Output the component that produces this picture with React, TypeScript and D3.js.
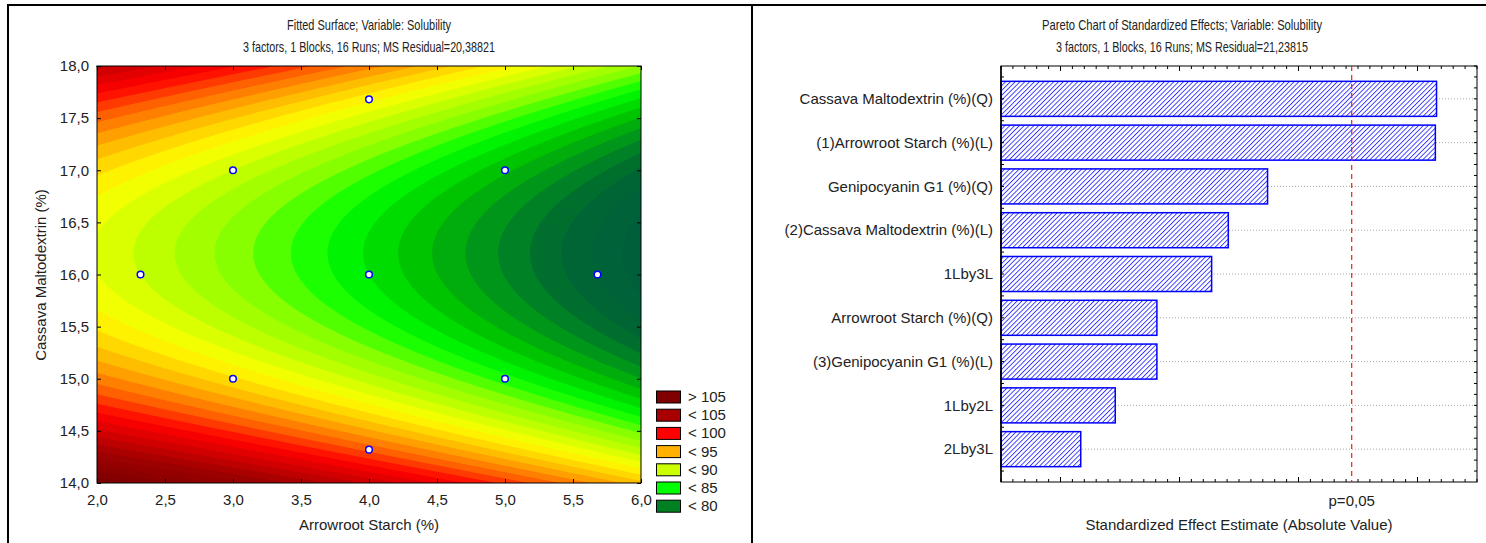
import React, { useEffect, useRef } from 'react';
import * as d3 from 'd3';

// ---------- left panel: fitted surface ----------
const starchTicks = [2, 2.5, 3, 3.5, 4, 4.5, 5, 5.5, 6];
const maltoTicks = [14, 14.5, 15, 15.5, 16, 16.5, 17, 17.5, 18];
const designStarch = [2.32, 3, 3, 4, 4, 4, 5, 5, 5.68];
const designMalto = [16, 17, 15, 17.68, 16, 14.32, 17, 15, 16];
// quadratic model read off the contour bands, coded units (starch-4, malto-16)
// b0, bS, bM, bSS, bMM, bSM
const surfaceCoef = [84, -3.87, -1.6, -0.18, 3.9, 0];
const levelStops = [74, 78, 80, 82.5, 85, 87.5, 90, 92, 95, 97.5, 100, 102.5, 105, 110];
const levelColors = ['#005a40', '#006633', '#008a20', '#00c400', '#00ff00', '#88ff00', '#ccff00',
  '#ffff00', '#ffb000', '#ff6000', '#ff0000', '#d00000', '#a00000', '#780000'];
const legendLabels = ['> 105', '< 105', '< 100', '< 95', '< 90', '< 85', '< 80'];
const legendColors = ['#800000', '#a80000', '#ff0000', '#ffb000', '#ccff00', '#00ff00', '#008022'];

// ---------- right panel: pareto chart ----------
const effectNames = [
  'Cassava Maltodextrin (%)(Q)',
  '(1)Arrowroot Starch (%)(L)',
  'Genipocyanin G1 (%)(Q)',
  '(2)Cassava Maltodextrin (%)(L)',
  '1Lby3L',
  'Arrowroot Starch (%)(Q)',
  '(3)Genipocyanin G1 (%)(L)',
  '1Lby2L',
  '2Lby3L',
];
const effectValues = [3.16, 3.15, 1.74, 1.41, 1.27, 0.81, 0.81, 0.46, 0.17];
const pCritical = 2.447;

const FONT = '"Liberation Sans", Arial, sans-serif';
const fmt = (d: number) => d3.format('.1f')(d).replace('.', ',');

export default function App() {
  const svgRef = useRef<SVGSVGElement>(null);

  useEffect(() => {
    const svg = d3.select(svgRef.current);
    svg.selectAll('*').remove();
    svg.attr('font-family', FONT).attr('font-size', 15).attr('fill', '#222');

    // condensed two-line chart titles
    const title = (g: any, cx: number, lines: string[], widths: number[]) => {
      lines.forEach((t, i) => {
        g.append('text').attr('x', cx).attr('y', 29.5 + i * 22).attr('text-anchor', 'middle')
          .attr('font-size', 15).attr('textLength', widths[i]).attr('lengthAdjust', 'spacingAndGlyphs')
          .text(t);
      });
    };

    // panel frames
    svg.append('line').attr('x1', 8).attr('x2', 1486).attr('y1', 5).attr('y2', 5)
      .attr('stroke', '#000').attr('stroke-width', 2);
    [8, 752].forEach(px => {
      svg.append('line').attr('x1', px).attr('x2', px).attr('y1', 4).attr('y2', 543)
        .attr('stroke', '#000').attr('stroke-width', 2);
    });

    // ================= fitted surface =================
    const x = d3.scaleLinear().domain([2, 6]).range([97, 641]);
    const y = d3.scaleLinear().domain([14, 18]).range([483, 66]);
    const color = d3.scaleLinear<string>().domain(levelStops).range(levelColors).clamp(true);

    const surf = (s: number, m: number) => {
      const [b0, bS, bM, bSS, bMM, bSM] = surfaceCoef;
      const u = s - 4, v = m - 16;
      return b0 + bS * u + bM * v + bSS * u * u + bMM * v * v + bSM * u * v;
    };

    const gw = 544, gh = 417;
    const values = new Array(gw * gh);
    for (let j = 0; j < gh; j++) {
      for (let i = 0; i < gw; i++) {
        values[j * gw + i] = surf(x.invert(97 + i + 0.5), y.invert(66 + j + 0.5));
      }
    }
    const bands = d3.contours().size([gw, gh]).thresholds(d3.range(60, 121, 1))(values);

    const left = svg.append('g');
    left.append('g').attr('transform', 'translate(97,66)')
      .selectAll('path').data(bands).join('path')
      .attr('d', d3.geoPath())
      .attr('fill', d => color(d.value + 0.5));

    // axes
    const styleAxis = (sel: any) => {
      sel.select('.domain').remove();
      sel.attr('font-family', FONT).attr('font-size', 15);
      sel.selectAll('line').attr('stroke', '#000');
      sel.selectAll('text').attr('fill', '#222');
    };
    left.append('g').attr('transform', 'translate(0,483)')
      .call(d3.axisBottom(x).tickValues(starchTicks).tickSize(-4).tickPadding(11).tickFormat(fmt as any))
      .call(styleAxis);
    left.append('g').attr('transform', 'translate(97,0)')
      .call(d3.axisLeft(y).tickValues(maltoTicks).tickSize(-4).tickPadding(8).tickFormat(fmt as any))
      .call(styleAxis);
    left.append('g').attr('transform', 'translate(0,66)')
      .call(d3.axisTop(x).tickValues(starchTicks).tickSize(-4).tickFormat(() => ''))
      .call(styleAxis);
    left.append('g').attr('transform', 'translate(641,0)')
      .call(d3.axisRight(y).tickValues(maltoTicks).tickSize(-4).tickFormat(() => ''))
      .call(styleAxis);
    left.append('rect').attr('x', 97).attr('y', 66).attr('width', 544).attr('height', 417)
      .attr('fill', 'none').attr('stroke', '#000');

    // design points
    left.selectAll('circle').data(designStarch).join('circle')
      .attr('cx', d => x(d))
      .attr('cy', (d, i) => y(designMalto[i]))
      .attr('r', 3.3)
      .attr('fill', '#fff').attr('stroke', '#0000ff').attr('stroke-width', 1.5);

    // titles
    title(left, 369, ['Fitted Surface; Variable: Solubility',
      '3 factors, 1 Blocks, 16 Runs; MS Residual=20,38821'], [164, 252]);
    left.append('text').attr('x', 369).attr('y', 530).attr('text-anchor', 'middle')
      .text('Arrowroot Starch (%)');
    left.append('text').attr('transform', 'translate(46,275) rotate(-90)').attr('text-anchor', 'middle')
      .text('Cassava Maltodextrin (%)');

    // legend
    const leg = left.append('g');
    legendLabels.forEach((lab, i) => {
      const ty = 391 + i * 18.2;
      leg.append('rect').attr('x', 656.5).attr('y', ty).attr('width', 24).attr('height', 12)
        .attr('fill', legendColors[i]).attr('stroke', '#000');
      leg.append('text').attr('x', 688).attr('y', ty + 11).text(lab);
    });

    // ================= pareto chart =================
    const xP = d3.scaleLinear().domain([-0.5, 3.5]).range([1001, 1477]);
    const yP = d3.scaleLinear().domain([0.25, 9.75]).range([66, 482]);
    const right = svg.append('g');

    const defs = svg.append('defs');
    const pat = defs.append('pattern').attr('id', 'hatch').attr('patternUnits', 'userSpaceOnUse')
      .attr('width', 3.4).attr('height', 3.4).attr('patternTransform', 'rotate(45)');
    pat.append('rect').attr('width', 3.4).attr('height', 3.4).attr('fill', '#fff');
    pat.append('line').attr('x1', 0).attr('x2', 0).attr('y1', 0).attr('y2', 3.4)
      .attr('stroke', '#3333ff').attr('stroke-width', 1.8);

    // grid
    right.selectAll('line.grid').data(effectValues).join('line').attr('class', 'grid')
      .attr('x1', 1001).attr('x2', 1477)
      .attr('y1', (d, i) => yP(i + 1)).attr('y2', (d, i) => yP(i + 1))
      .attr('stroke', '#aaa').attr('stroke-dasharray', '1,2');

    // bars
    right.selectAll('rect.bar').data(effectValues).join('rect').attr('class', 'bar')
      .attr('x', xP(-0.5))
      .attr('y', (d, i) => yP(i + 1 - 0.4))
      .attr('width', d => xP(d) - xP(-0.5))
      .attr('height', yP(1.4) - yP(0.6))
      .attr('fill', 'url(#hatch)').attr('stroke', '#0000ff').attr('stroke-width', 1.5);

    // tick marks
    const ticksH = (vals: number[], yy: number, dir: number, len: (v: number) => number) => {
      right.append('g').selectAll('line').data(vals).join('line')
        .attr('x1', d => xP(d)).attr('x2', d => xP(d))
        .attr('y1', yy).attr('y2', d => yy + dir * len(d))
        .attr('stroke', '#000');
    };
    const ticksV = (vals: number[], xx: number, dir: number) => {
      right.append('g').selectAll('line').data(vals).join('line')
        .attr('y1', d => yP(d)).attr('y2', d => yP(d))
        .attr('x1', xx).attr('x2', xx + dir * 3)
        .attr('stroke', '#000');
    };
    const xTicks = d3.range(-5, 36).map(k => k / 10);
    const tickLen = (v: number) => (Math.abs(v - Math.round(v)) < 1e-6 ? 5 : 3);
    ticksH(xTicks, 66, 1, tickLen);
    ticksH(xTicks, 482, -1, tickLen);
    ticksV(d3.range(1, 20).map(k => k / 2), 1001, 1);
    ticksV(d3.range(1, 39).map(k => k / 4), 1477, -1);

    right.append('rect').attr('x', 1001).attr('y', 66).attr('width', 476).attr('height', 416)
      .attr('fill', 'none').attr('stroke', '#000');
    right.append('line').attr('x1', 1001).attr('x2', 1001).attr('y1', 66).attr('y2', 482)
      .attr('stroke', '#000').attr('stroke-width', 1.5);

    // critical t value
    right.append('line').attr('x1', xP(pCritical)).attr('x2', xP(pCritical))
      .attr('y1', 66).attr('y2', 482)
      .attr('stroke', '#ff1a1a').attr('stroke-width', 1.2).attr('stroke-dasharray', '5,4');
    right.append('text').attr('x', xP(pCritical)).attr('y', 506).attr('text-anchor', 'middle')
      .text('p=0,05');

    // category labels
    right.selectAll('text.cat').data(effectNames).join('text').attr('class', 'cat')
      .attr('x', 993).attr('y', (d, i) => yP(i + 1)).attr('dy', '0.35em')
      .attr('text-anchor', 'end').text(d => d);

    title(right, 1182, ['Pareto Chart of Standardized Effects; Variable: Solubility',
      '3 factors, 1 Blocks, 16 Runs; MS Residual=21,23815'], [280, 252]);
    right.append('text').attr('x', 1239).attr('y', 530).attr('text-anchor', 'middle')
      .text('Standardized Effect Estimate (Absolute Value)');
  }, []);

  return (
    <div style={{ position: 'absolute', left: 0, top: 0, background: '#fff' }}>
      <svg ref={svgRef} width={1486} height={543} style={{ display: 'block' }}></svg>
    </div>
  );
}
